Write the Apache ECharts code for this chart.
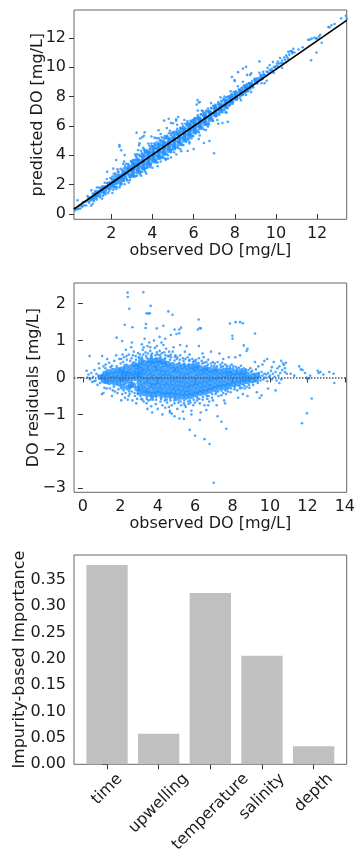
<!DOCTYPE html>
<html>
<head>
<meta charset="utf-8">
<script src="https://cdn.jsdelivr.net/npm/echarts@6/dist/echarts.min.js"></script>
<style>
html,body{margin:0;padding:0;background:#fff;}
#chart{width:354px;height:853px;}
</style>
</head>
<body>
<div id="chart"></div>
<script>
// ---------- DATA ----------
// dense core of the cloud: [observed DO, residual] (mg/L)
const coreDO = [
[0.95,0.0],[1.05,0.02],[1.12,-0.08],[1.18,0.1],[1.25,-0.1],[1.3,0.0],[1.35,0.15],[1.42,-0.12],[1.5,0.06],[1.58,-0.04],[1.62,0.18],[1.7,-0.14],[1.75,0.08],[1.82,-0.02],[1.88,0.2],[1.93,-0.16],[1.98,0.1],
[2.03,-0.05],[2.08,0.22],[2.12,-0.25],[2.18,0.08],[2.25,-0.12],[2.3,0.3],[2.36,0.0],[2.42,-0.28],[2.47,0.16],[2.52,-0.08],[2.58,0.28],[2.63,0.04],[2.68,-0.2],[2.74,0.36],[2.8,-0.02],[2.85,0.18],[2.9,-0.3],[2.95,0.08],[2.22,0.15],[2.55,-0.22],[2.88,0.3],[2.7,0.12],[2.4,0.1],[2.15,-0.02],
[3.03,-0.4],[3.07,-0.28],[3.02,-0.15],[3.08,-0.04],[3.04,0.08],[3.1,0.2],[3.05,0.32],[3.09,0.42],
[3.28,-0.43],[3.32,-0.33],[3.27,-0.2],[3.34,-0.09],[3.3,0.04],[3.25,0.16],[3.33,0.28],[3.29,0.4],
[3.55,-0.45],[3.52,-0.35],[3.58,-0.22],[3.54,-0.1],[3.57,0.02],[3.51,0.14],[3.56,0.26],[3.53,0.38],[3.59,0.46],
[3.78,-0.46],[3.82,-0.36],[3.77,-0.24],[3.83,-0.12],[3.8,0.0],[3.76,0.12],[3.84,0.24],[3.79,0.36],[3.81,0.45],
[4.03,-0.44],[4.07,-0.34],[4.02,-0.22],[4.08,-0.1],[4.04,0.03],[4.06,0.15],[4.01,0.27],[4.09,0.39],[4.05,0.47],
[4.28,-0.47],[4.32,-0.38],[4.27,-0.25],[4.33,-0.13],[4.29,0.0],[4.31,0.12],[4.26,0.24],[4.34,0.36],[4.3,0.44],
[4.53,-0.47],[4.57,-0.37],[4.52,-0.24],[4.58,-0.12],[4.55,0.01],[4.51,0.13],[4.56,0.25],[4.54,0.37],
[4.78,-0.48],[4.82,-0.38],[4.77,-0.26],[4.83,-0.14],[4.8,-0.02],[4.76,0.1],[4.84,0.22],[4.79,0.34],
[5.03,-0.5],[5.07,-0.4],[5.02,-0.28],[5.08,-0.16],[5.04,-0.04],[5.06,0.08],[5.01,0.2],[5.09,0.32],
[5.28,-0.52],[5.32,-0.42],[5.27,-0.3],[5.33,-0.18],[5.29,-0.06],[5.31,0.06],[5.26,0.18],[5.34,0.3],
[5.53,-0.52],[5.57,-0.42],[5.52,-0.32],[5.58,-0.2],[5.55,-0.08],[5.51,0.04],[5.56,0.16],[5.54,0.28],
[5.78,-0.5],[5.82,-0.4],[5.77,-0.28],[5.83,-0.16],[5.8,-0.04],[5.76,0.08],[5.84,0.2],[5.79,0.3],
[6.03,-0.46],[6.07,-0.36],[6.02,-0.24],[6.08,-0.12],[6.04,0.0],[6.06,0.12],[6.01,0.24],[6.09,0.32],
[6.28,-0.42],[6.32,-0.33],[6.27,-0.21],[6.33,-0.09],[6.29,0.03],[6.31,0.15],[6.26,0.26],
[6.53,-0.4],[6.57,-0.3],[6.52,-0.18],[6.58,-0.06],[6.55,0.06],[6.51,0.18],[6.56,0.26],
[6.78,-0.36],[6.82,-0.26],[6.77,-0.14],[6.83,-0.02],[6.8,0.1],[6.76,0.2],
[7.03,-0.31],[7.07,-0.21],[7.02,-0.09],[7.08,0.03],[7.04,0.15],[7.06,0.22],
[7.28,-0.28],[7.32,-0.18],[7.27,-0.06],[7.33,0.06],[7.29,0.17],
[7.53,-0.26],[7.57,-0.16],[7.52,-0.04],[7.58,0.08],[7.55,0.18],
[7.78,-0.23],[7.82,-0.13],[7.77,-0.01],[7.83,0.1],[7.8,0.18],
[8.03,-0.18],[8.07,-0.08],[8.02,0.04],[8.08,0.14],[8.28,-0.16],[8.32,-0.06],[8.27,0.06],[8.33,0.14],[8.53,-0.13],[8.57,-0.04],[8.52,0.07],[8.58,0.14],[8.78,-0.1],[8.82,-0.02],[8.77,0.08],
[9.03,-0.08],[9.07,0.04],[9.28,-0.05],[9.32,0.06]
];
// sparser points around the core: [observed DO, residual]
const haloDO = [
[0.2,0.18],[0.3,0.08],[0.38,-0.05],[0.45,0.12],[0.5,-0.12],[0.55,0.02],[0.62,0.2],[0.68,-0.08],[0.72,0.1],[0.78,-0.2],[0.82,0.05],[0.88,0.25],[0.92,-0.15],[0.6,-0.1],[0.85,0.38],[1.03,0.58],[1.02,-0.45],[1.1,-0.42],[0.4,-0.02],[0.25,0.0],
[1.1,0.3],[1.15,-0.28],[1.22,0.35],[1.28,-0.3],[1.4,0.4],[1.45,-0.3],[1.55,0.32],[1.6,-0.35],[1.68,0.45],[1.72,-0.38],[1.8,0.3],[1.85,-0.42],[1.95,0.5],[1.9,-0.32],[1.3,0.5],[1.55,-0.5],[1.78,0.6],[1.65,-0.25],[1.2,0.25],[1.48,0.28],
[2.05,0.5],[2.1,-0.45],[2.2,0.55],[2.25,-0.55],[2.35,0.48],[2.4,-0.6],[2.45,0.62],[2.5,-0.45],[2.6,0.52],[2.65,-0.62],[2.72,0.7],[2.78,-0.5],[2.82,0.58],[2.9,-0.58],[2.95,0.66],[2.3,0.75],[2.58,0.82],[2.85,-0.7],[2.15,0.42],[2.48,-0.38],
[2.02,0.38],[2.12,0.62],[2.28,-0.42],[2.33,0.58],[2.44,-0.5],[2.53,0.45],[2.62,-0.38],[2.67,0.6],[2.76,-0.42],[2.84,0.48],[2.93,-0.45],[2.98,0.55],[2.18,-0.35],[2.62,0.95],[2.05,-0.62],
[3.05,0.62],[3.12,-0.58],[3.2,0.75],[3.25,-0.65],[3.35,0.68],[3.4,-0.7],[3.45,0.85],[3.5,-0.62],[3.6,0.72],[3.65,-0.78],[3.7,0.65],[3.75,-0.6],[3.85,0.8],[3.9,-0.72],[3.95,0.68],[4.0,-0.85],[4.1,0.72],[4.15,-0.65],[4.2,0.95],[4.25,-0.75],[4.35,0.68],[4.4,-0.82],[4.45,0.78],[4.5,-0.68],[4.6,0.7],[4.65,-0.9],[4.7,0.62],[4.75,-0.75],[4.85,0.82],[4.9,-0.7],[4.95,0.6],[3.3,1.05],[3.55,0.95],[3.8,1.0],[4.1,1.1],[4.4,1.05],[4.7,1.15],[3.7,-0.95],[4.25,-1.0],[3.15,0.9],[4.9,-1.05],[4.55,0.58],[3.65,0.6],[4.0,0.62],
[3.02,0.52],[3.08,-0.5],[3.14,0.55],[3.18,-0.6],[3.23,0.62],[3.38,0.58],[3.42,-0.58],[3.48,0.65],[3.62,-0.6],[3.68,0.56],[3.72,-0.55],[3.88,0.6],[3.92,-0.6],[4.12,0.6],[4.18,-0.58],[4.22,0.66],[4.38,-0.62],[4.42,0.6],[4.48,-0.6],[4.62,0.58],[4.68,-0.62],[4.72,0.55],[4.88,-0.62],[4.92,0.56],[4.98,-0.6],[3.45,-0.85],[3.95,0.85],[4.6,-0.8],[4.3,0.88],[3.6,0.82],[4.8,0.7],[3.25,0.82],
[3.18,0.5],[3.42,0.52],[3.66,0.54],[3.9,0.52],[4.15,0.55],[4.4,0.52],[4.66,0.48],[4.9,0.46],[3.4,-0.52],[3.66,-0.54],[3.92,-0.52],[4.16,-0.54],[4.42,-0.55],[4.66,-0.56],[4.92,-0.56],
[5.05,0.55],[5.1,-0.68],[5.2,0.6],[5.25,-0.75],[5.35,0.52],[5.4,-0.7],[5.45,0.7],[5.5,-0.8],[5.6,0.55],[5.65,-0.72],[5.7,0.48],[5.75,-0.68],[5.85,0.5],[5.9,-0.75],[5.95,0.45],[5.2,0.88],[5.55,0.85],[5.35,-0.92],[5.8,-0.9],[5.15,1.2],[5.25,1.35],
[5.02,0.5],[5.12,-0.6],[5.18,0.48],[5.22,-0.65],[5.38,0.45],[5.42,-0.62],[5.48,0.5],[5.62,-0.65],[5.68,0.45],[5.72,-0.62],[5.88,0.42],[5.92,-0.6],[5.98,-0.68],[5.45,-0.75],[5.7,0.62],[5.05,-0.85],[5.16,0.4],[5.42,0.38],[5.66,0.36],[5.9,0.36],
[6.05,0.48],[6.1,-0.62],[6.2,0.52],[6.25,-0.7],[6.35,0.45],[6.4,-0.6],[6.45,0.55],[6.5,-0.75],[6.6,0.42],[6.65,-0.58],[6.7,0.48],[6.75,-0.65],[6.85,0.38],[6.9,-0.55],[6.95,0.42],[6.2,0.85],[6.6,-0.88],[6.3,-0.95],[6.85,0.7],[6.15,1.3],
[6.02,0.42],[6.12,-0.55],[6.18,0.4],[6.22,-0.58],[6.38,0.38],[6.42,-0.52],[6.48,0.4],[6.62,-0.5],[6.68,0.35],[6.72,-0.5],[6.88,0.3],[6.92,-0.45],[6.4,0.65],[6.7,-0.75],[6.95,-0.62],
[7.05,0.38],[7.1,-0.45],[7.2,0.42],[7.25,-0.5],[7.35,0.35],[7.4,-0.48],[7.45,0.4],[7.5,-0.42],[7.6,0.35],[7.65,-0.45],[7.7,0.32],[7.75,-0.38],[7.85,0.3],[7.9,-0.4],[7.95,0.35],[7.3,0.65],[7.6,-0.7],[7.15,-0.75],[7.8,0.55],[7.55,-0.62],
[7.02,0.32],[7.12,-0.4],[7.18,0.3],[7.22,-0.38],[7.38,0.28],[7.42,-0.36],[7.48,0.3],[7.62,-0.35],[7.68,0.26],[7.72,-0.32],[7.88,0.25],[7.92,-0.3],[7.5,0.5],
[8.05,0.3],[8.1,-0.32],[8.2,0.28],[8.25,-0.35],[8.35,0.26],[8.4,-0.3],[8.45,0.32],[8.5,-0.28],[8.6,0.25],[8.65,-0.3],[8.7,0.22],[8.75,-0.25],[8.85,0.2],[8.9,-0.28],[8.95,0.25],[8.15,0.55],[8.4,0.6],[8.75,0.72],[8.3,-0.55],[8.8,-0.5],[8.55,-0.45],
[8.02,0.24],[8.12,-0.26],[8.22,0.22],[8.38,-0.24],[8.48,0.22],[8.62,-0.22],[8.72,0.18],[8.88,-0.2],[8.98,0.15],
[9.05,0.18],[9.1,-0.2],[9.15,0.1],[9.2,-0.1],[9.25,0.22],[9.35,-0.15],[9.4,0.12],[9.45,0.02],[9.5,-0.08],[9.55,0.15],[9.6,0.05],[9.65,-0.05],[9.7,0.1],[9.75,0.0],[9.8,0.08],[9.85,-0.1],[9.9,0.12],[9.95,0.02],[9.45,-0.55],[9.55,-0.48],[9.3,-0.4],[9.7,0.45],[9.85,0.5],[9.6,0.35],[9.2,0.42],[9.38,0.3],[9.9,-0.3],
[10.0,0.05],[10.05,0.18],[10.1,-0.05],[10.15,0.1],[10.2,0.42],[10.25,0.02],[10.3,0.15],[10.35,-0.08],[10.4,0.25],[10.45,0.05],[10.5,0.3],[10.55,0.12],[10.6,-0.05],[10.65,0.2],[10.7,0.38],[10.75,0.34],[10.8,0.15],[10.85,0.4],[10.9,0.1],[10.3,-0.35],[10.5,-0.15],[10.1,0.28],[10.6,0.45],[10.8,0.25],
[11.1,0.1],[11.3,0.05],[11.56,0.3],[11.65,0.22],[11.74,0.2],[11.87,0.12],[11.95,0.0],[12.1,-0.02],[12.15,0.05],[12.55,0.18],[12.6,0.12],[12.7,0.15],[12.85,0.08],[13.17,0.15],[13.4,0.1],[13.44,-0.15],[12.0,-0.05]
];
// isolated outliers: [observed DO, residual]
const outlierDO = [
[2.39,2.3],[2.4,2.18],[2.48,1.86],[3.23,2.31],[3.4,1.74],[3.5,1.73],[3.58,1.74],[3.62,1.94],[4.57,1.79],[4.79,1.7],[2.24,1.43],[2.65,1.36],[1.8,1.08],[2.1,0.99],[0.36,0.58],[3.37,1.45],[3.35,1.34],[3.95,1.33],[4.3,1.4],[4.9,1.3],[5.0,1.18],[5.15,1.3],[6.19,1.57],[6.25,1.34],[6.3,1.33],[7.86,1.46],[8.16,1.5],[8.4,1.5],[8.55,1.47],[7.99,1.13],[9.2,1.19],[8.6,0.87],[8.8,0.78],[8.0,1.05],
[6.99,-2.85],[6.77,-1.8],[6.5,-1.67],[6.0,-1.58],[5.71,-1.42],[7.66,-1.39],[11.71,-1.24],[11.97,-0.97],[12.23,-0.57],[5.16,-1.11],[5.4,-1.12],[6.25,-1.15],[7.2,-1.05],[7.4,-1.2],[4.65,-0.95],[4.75,-0.98],[5.8,-1.0]
];
// fitted line in the predicted-vs-observed panel
const fitObserved = [0.187, 13.44];
const fitPredicted = [0.34, 13.18];
// feature importances
const features = ['time','upwelling','temperature','salinity','depth'];
const importance = [0.3785, 0.058, 0.3253, 0.2063, 0.0342];
// tick labels
const obsTicksTop = [2,4,6,8,10,12];
const predTicks = [0,2,4,6,8,10,12];
const obsTicksResid = [0,2,4,6,8,10,12,14];
const residTicks = [-3,-2,-1,0,1,2];
const featureTicks = [0,1,2,3,4];
const importanceTicks = [0,0.05,0.10,0.15,0.20,0.25,0.30,0.35];

// ---------- CHART ----------
const FONT = 'DejaVu Sans';
const FS = 16;
const BLUE = '#1E90FF';
const TXT = '#1a1a1a';

const toPred = p => [p[0], +(p[0] + p[1]).toFixed(3)];
const minus = v => String(v).replace('-', '\u2212');
const lbl = (ticks, margin, fmt, more) => Object.assign({show: true, customValues: ticks, margin, fontFamily: FONT, fontSize: FS, color: TXT, formatter: fmt || (v => minus(v))}, more || {});

function axis(gridIndex, min, max, ticks, name, nameGap, label) {
  return {
    type: 'value', gridIndex, min, max,
    name, nameLocation: 'middle', nameGap, nameMoveOverlap: false,
    nameTextStyle: {fontFamily: FONT, fontSize: FS, color: TXT},
    axisLine: {show: false},
    axisTick: {show: true, customValues: ticks, length: 5, lineStyle: {color: '#333', width: 1}},
    axisLabel: label,
    splitLine: {show: false}
  };
}

const gridBase = {left: 74, width: 272.7, height: 209.3, show: true, borderColor: '#666', borderWidth: 1, backgroundColor: 'transparent', containLabel: false, outerBoundsMode: 'none'};

const richFor = (pad) => ({fontFamily: FONT, fontSize: FS, color: TXT, padding: [pad, pad, 0, 0]});

const option = {
  animation: false,
  backgroundColor: '#fff',
  grid: [
    Object.assign({top: 10}, gridBase),
    Object.assign({top: 283}, gridBase),
    Object.assign({top: 555}, gridBase)
  ],
  xAxis: [
    axis(0, 0.187, 13.44, obsTicksTop, 'observed DO [mg/L]', 24, lbl(obsTicksTop, 7)),
    axis(1, -0.475, 14.1, obsTicksResid, 'observed DO [mg/L]', 24, lbl(obsTicksResid, 7)),
    axis(2, -0.64, 4.64, featureTicks, '', 0, lbl(featureTicks, 25, v => '{r' + v + '|' + features[v] + '}', {
      rotate: 45, align: 'center', verticalAlign: 'middle',
      rich: {r0: richFor(0), r1: richFor(20), r2: richFor(32), r3: richFor(10.5), r4: richFor(5)}
    }))
  ],
  yAxis: [
    axis(0, -0.36, 13.89, predTicks, 'predicted DO [mg/L]', 28, lbl(predTicks, 8)),
    axis(1, -3.11, 2.56, residTicks, 'DO residuals [mg/L]', 32, lbl(residTicks, 8)),
    axis(2, 0, 0.3975, importanceTicks, 'Impurity-based Importance', 46, lbl(importanceTicks, 8, v => v.toFixed(2)))
  ],
  series: [
    // predicted vs observed
    {type: 'scatter', xAxisIndex: 0, yAxisIndex: 0, data: coreDO.map(toPred), symbol: 'circle', symbolSize: 4.5, itemStyle: {color: BLUE}, silent: true},
    {type: 'scatter', xAxisIndex: 0, yAxisIndex: 0, data: haloDO.concat(outlierDO).map(toPred), symbol: 'circle', symbolSize: 2.6, itemStyle: {color: BLUE}, silent: true},
    {type: 'line', xAxisIndex: 0, yAxisIndex: 0, data: fitObserved.map((x, i) => [x, fitPredicted[i]]), symbol: 'none', lineStyle: {color: '#000', width: 1.6}, z: 5, silent: true},
    // residuals
    {type: 'scatter', xAxisIndex: 1, yAxisIndex: 1, data: coreDO, symbol: 'circle', symbolSize: 6, itemStyle: {color: BLUE}, silent: true,
     markLine: {silent: true, symbol: 'none', label: {show: false}, lineStyle: {color: '#555', type: 'dotted', width: 1.5}, data: [{yAxis: 0}], z: 5}},
    {type: 'scatter', xAxisIndex: 1, yAxisIndex: 1, data: haloDO.concat(outlierDO), symbol: 'circle', symbolSize: 2.6, itemStyle: {color: BLUE}, silent: true},
    // importance
    {type: 'bar', xAxisIndex: 2, yAxisIndex: 2, data: importance.map((v, i) => [i, v]), barWidth: '80%', itemStyle: {color: '#C0C0C0'}, silent: true}
  ]
};

const chart = echarts.init(document.getElementById('chart'), null, {renderer: 'canvas'});
chart.setOption(option);
</script>
</body>
</html>
